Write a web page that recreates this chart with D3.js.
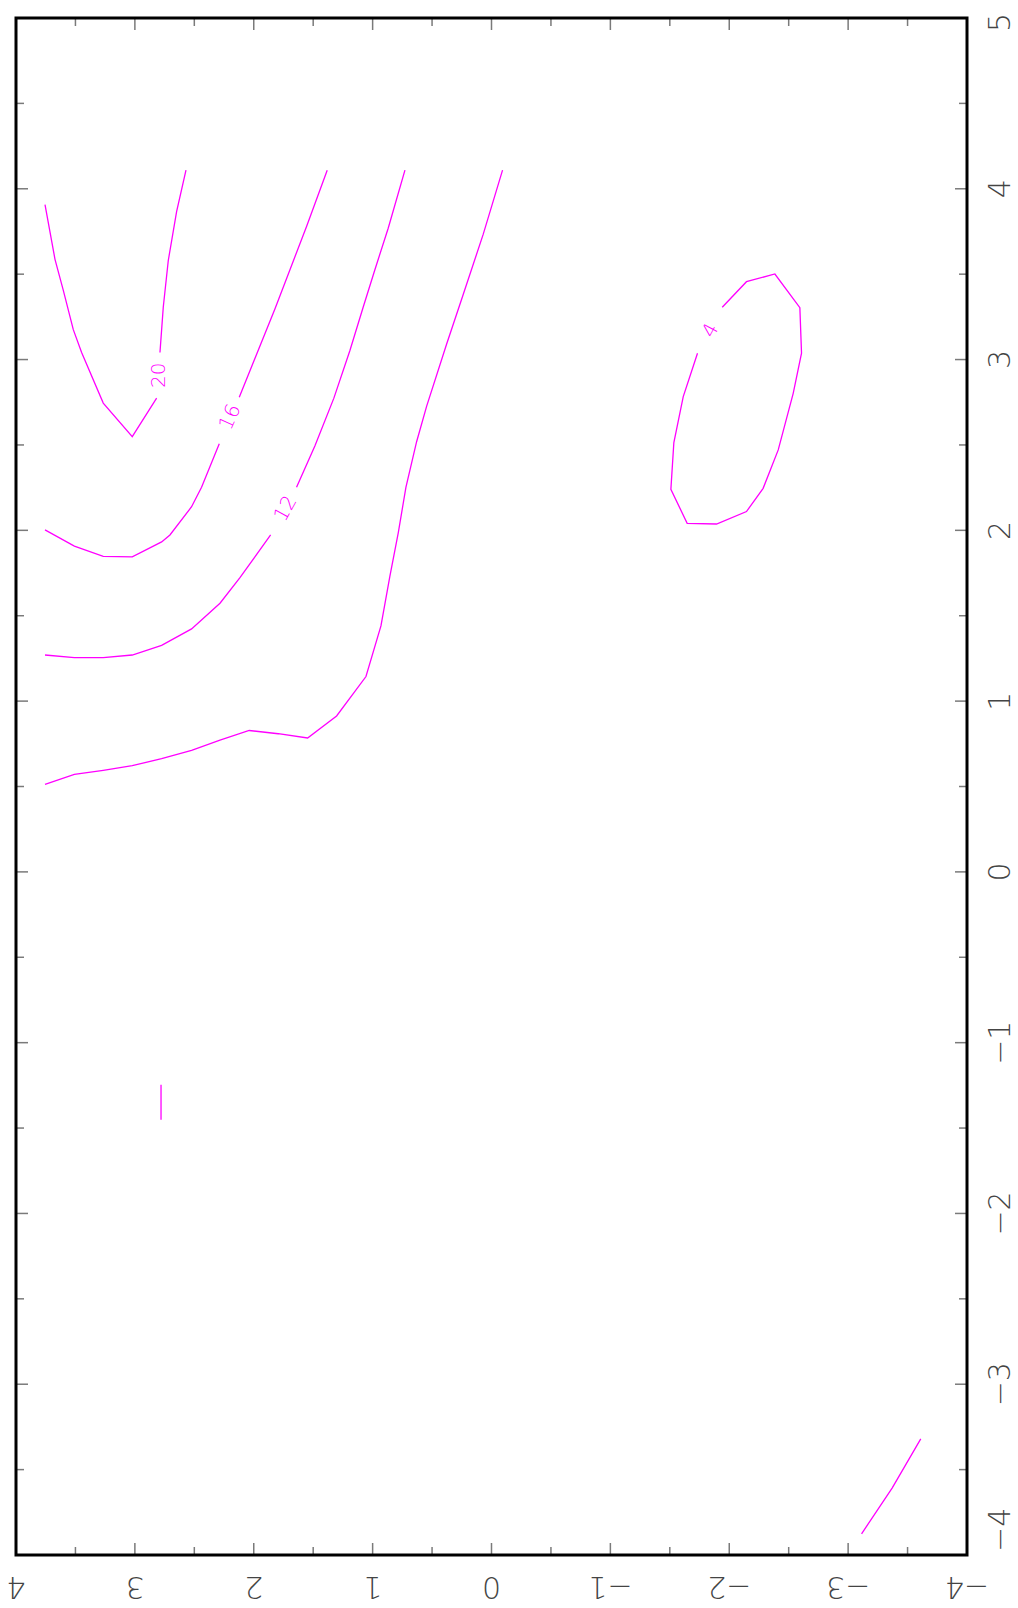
<!DOCTYPE html>
<html>
<head>
<meta charset="utf-8">
<script src="https://cdn.jsdelivr.net/npm/d3@7"></script>
<style>
  html, body { margin: 0; padding: 0; background: #fff; }
  svg { display: block; }
  text { font-family: "DejaVu Sans", "Liberation Sans", sans-serif; }
</style>
</head>
<body>
<svg id="chart" width="1018" height="1608"></svg>
<script>
// Axis ticks (u = axis along the bottom, v = axis along the right side)
const uMajorTicks = [4, 3, 2, 1, 0, -1, -2, -3, -4];
const uTickLabels = ["4", "3", "2", "1", "0", "\u22121", "\u22122", "\u22123", "\u22124"];
const vMajorTicks = [5, 4, 3, 2, 1, 0, -1, -2, -3, -4];
const vTickLabels = ["5", "4", "3", "2", "1", "0", "\u22121", "\u22122", "\u22123", "\u22124"];
const uMinorTicks = [3.5, 2.5, 1.5, 0.5, -0.5, -1.5, -2.5, -3.5];
const vMinorTicks = [4.5, 3.5, 2.5, 1.5, 0.5, -0.5, -1.5, -2.5, -3.5];

// Contour lines: [u, v] points
const contour20a = [[3.756,3.907],[3.672,3.587],[3.602,3.405],[3.518,3.175],[3.448,3.041],[3.266,2.745],[3.022,2.549],[2.817,2.774]];
const contour20b = [[2.789,3.041],[2.761,3.308],[2.719,3.580],[2.649,3.866],[2.570,4.109]];
const contour16a = [[3.756,2.003],[3.509,1.908],[3.266,1.847],[3.022,1.845],[2.775,1.932],[2.705,1.973],[2.523,2.138],[2.439,2.252],[2.290,2.507]];
const contour16b = [[2.122,2.779],[1.822,3.296],[1.555,3.781],[1.382,4.109]];
const contour12a = [[3.756,1.270],[3.509,1.255],[3.266,1.255],[3.022,1.270],[2.775,1.326],[2.523,1.423],[2.284,1.573],[2.116,1.723],[1.858,1.973]];
const contour12b = [[1.640,2.252],[1.485,2.495],[1.326,2.774],[1.191,3.053],[1.079,3.308],[0.981,3.526],[0.869,3.769],[0.728,4.109]];
const contour8 = [[3.756,0.513],[3.509,0.571],[3.266,0.595],[3.022,0.622],[2.775,0.663],[2.523,0.712],[2.284,0.772],[2.038,0.828],[1.794,0.809],[1.547,0.784],[1.303,0.913],[1.056,1.144],[0.930,1.440],[0.855,1.731],[0.784,1.986],[0.720,2.252],[0.630,2.519],[0.546,2.726],[0.378,3.090],[0.238,3.381],[0.070,3.733],[-0.093,4.109]];
const contour4 = [[-1.941,3.306],[-2.145,3.456],[-2.384,3.501],[-2.594,3.304],[-2.608,3.037],[-2.538,2.802],[-2.412,2.471],[-2.285,2.246],[-2.145,2.110],[-1.893,2.037],[-1.646,2.041],[-1.509,2.240],[-1.534,2.514],[-1.613,2.783],[-1.733,3.037]];
const contourSmall = [[2.780,-1.247],[2.780,-1.452]];
const contourCorner = [[-3.611,-3.320],[-3.370,-3.608],[-3.113,-3.876]];
const contourLines = [contour20a, contour20b, contour16a, contour16b, contour12a, contour12b, contour8, contour4, contourSmall, contourCorner];

// Contour labels: text, u, v, angle
const contourLabelText = ["20", "16", "12", "4"];
const contourLabelU = [2.803, 2.206, 1.738, -1.837];
const contourLabelV = [2.908, 2.665, 2.13, 3.173];
const contourLabelAngle = [-90, -66, -61, -62];

const svg = d3.select("#chart");
const pL = 16, pR = 967, pT = 18, pB = 1555;
const xs = d3.scaleLinear().domain([4, -4]).range([pL, pR]);
const ys = d3.scaleLinear().domain([5, -4]).range([pT, pB]);

const tickColor = "#7a7a7a";
const lblColor = "#444";

// contour lines
const line = d3.line().x(d => xs(d[0])).y(d => ys(d[1]));
svg.append("g").selectAll("path").data(contourLines).join("path")
  .attr("d", line).attr("fill", "none").attr("stroke", "#ff00ff").attr("stroke-width", 1.3);

// contour labels
svg.append("g").selectAll("text").data(contourLabelText).join("text")
  .attr("transform", (d, i) => `translate(${xs(contourLabelU[i])},${ys(contourLabelV[i])}) rotate(${contourLabelAngle[i]})`)
  .attr("text-anchor", "middle").attr("dominant-baseline", "central")
  .attr("font-size", 20).attr("font-weight", 200).attr("fill", "#ff00ff")
  .text(d => d);

// ticks on all four sides
const tg = svg.append("g").attr("stroke", tickColor).attr("stroke-width", 1.5);
function hTicks(vals, len) {
  vals.forEach(v => {
    const x = xs(v);
    tg.append("line").attr("x1", x).attr("x2", x).attr("y1", pB).attr("y2", pB - len);
    tg.append("line").attr("x1", x).attr("x2", x).attr("y1", pT).attr("y2", pT + len);
  });
}
function vTicks(vals, len) {
  vals.forEach(v => {
    const y = ys(v);
    tg.append("line").attr("y1", y).attr("y2", y).attr("x1", pR).attr("x2", pR - len);
    tg.append("line").attr("y1", y).attr("y2", y).attr("x1", pL).attr("x2", pL + len);
  });
}
hTicks(uMajorTicks, 12); hTicks(uMinorTicks, 8);
vTicks(vMajorTicks, 12); vTicks(vMinorTicks, 8);

// frame
svg.append("rect").attr("x", pL).attr("y", pT).attr("width", pR - pL).attr("height", pB - pT)
  .attr("fill", "none").attr("stroke", "#000").attr("stroke-width", 3);

// bottom labels (upside down)
svg.append("g").selectAll("text").data(uMajorTicks).join("text")
  .attr("transform", d => `translate(${xs(d)},1587) rotate(180)`)
  .attr("text-anchor", "middle").attr("dominant-baseline", "central")
  .attr("font-size", 30).attr("font-weight", 200).attr("fill", lblColor)
  .text((d, i) => uTickLabels[i]);

// right labels (rotated, reading upward), kept inside frame extent
const rl = svg.append("g").selectAll("text").data(vMajorTicks).join("text")
  .attr("text-anchor", "middle").attr("dominant-baseline", "central")
  .attr("font-size", 30).attr("font-weight", 200).attr("fill", lblColor)
  .text((d, i) => vTickLabels[i]);
rl.each(function(d) {
  const half = this.getComputedTextLength() / 2;
  const cy = Math.max(13 + half, Math.min(1552 - half, ys(d)));
  d3.select(this).attr("transform", `translate(999,${cy}) rotate(-90)`);
});
</script>
</body>
</html>
